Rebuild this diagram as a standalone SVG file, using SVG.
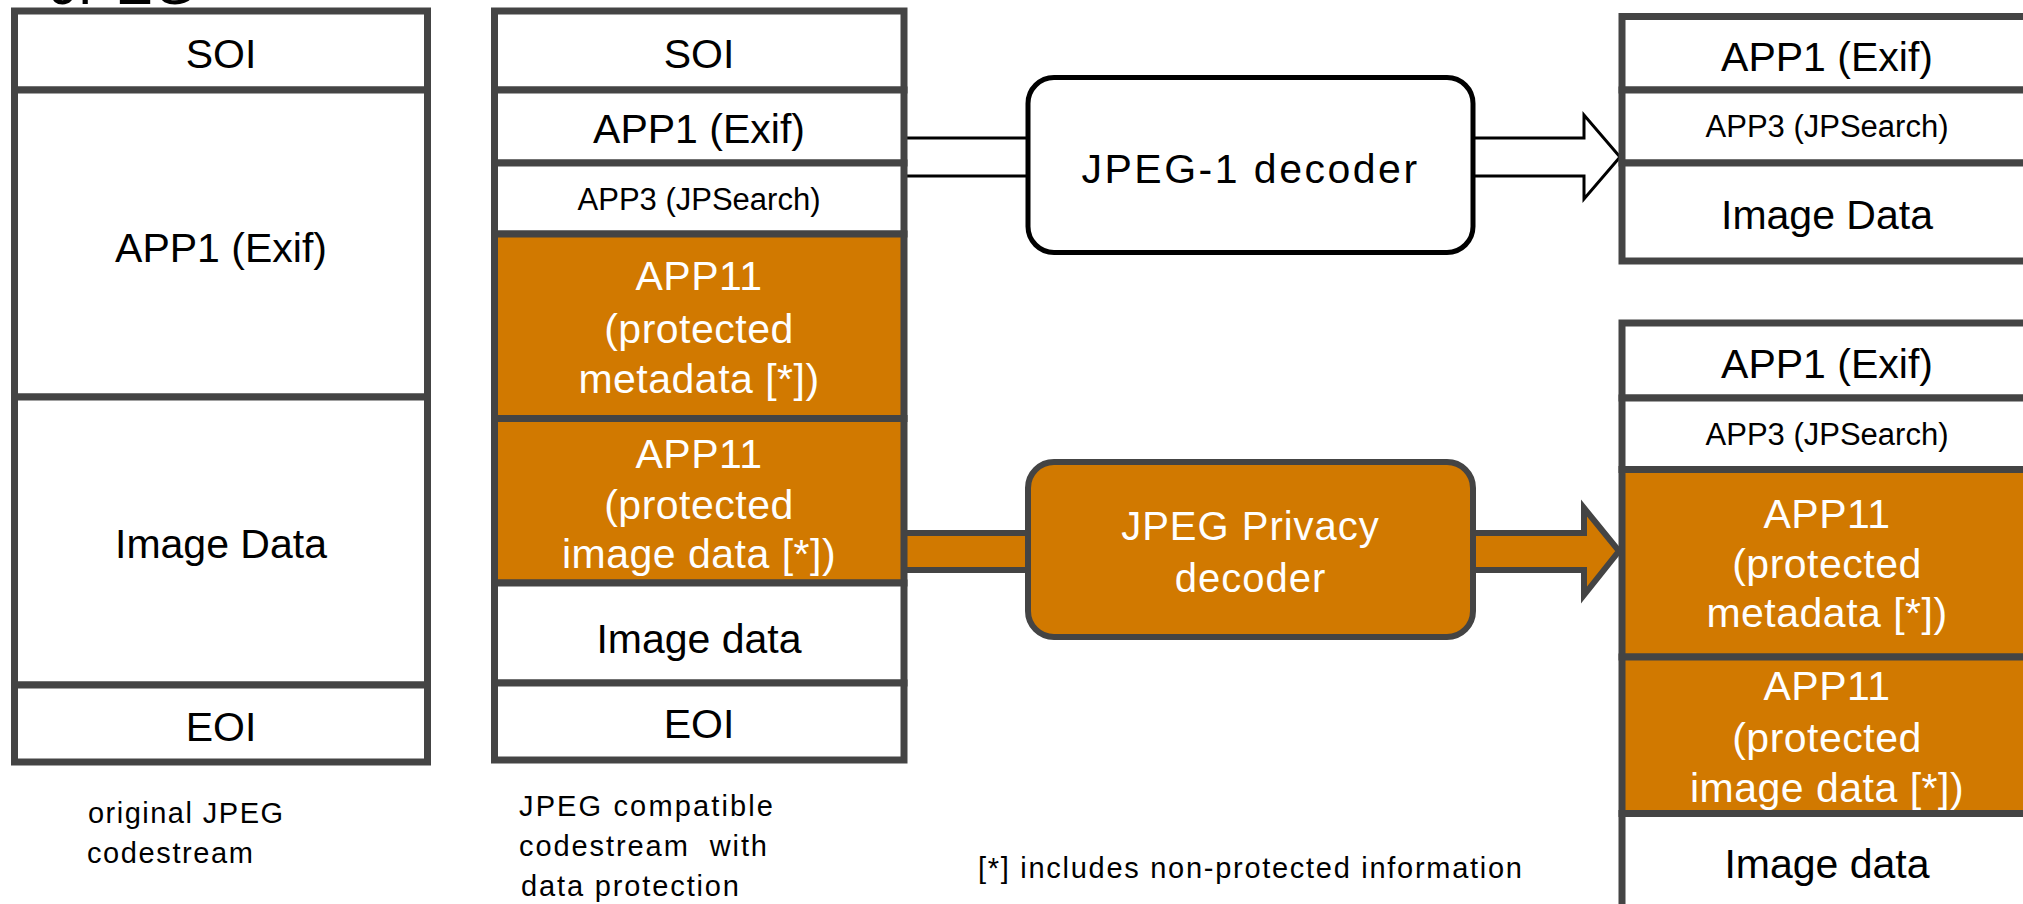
<svg xmlns="http://www.w3.org/2000/svg" width="2023" height="904" viewBox="0 0 2023 904">
<style>
text{font-family:"Liberation Sans",Arial,sans-serif;text-anchor:middle;fill:#000}
.cell{fill:#fff;stroke:#444;stroke-width:7}
.org{fill:#D17900;stroke:#444;stroke-width:7}
.t{font-size:41px}
.s{font-size:31px}
.w{fill:#fff;font-size:41px;letter-spacing:0.5px}
.cap{font-size:29px;text-anchor:start}
</style>
<rect width="2023" height="904" fill="#fff"/>
<text x="50" y="4" style="font-size:56px;text-anchor:start">JPEG</text>

<g id="connectors">
  <path d="M907,138 H1028 M907,176 H1028" stroke="#000" stroke-width="3" fill="none"/>
  <polygon points="1473,138 1584,138 1584,115 1620,157 1584,199 1584,176 1473,176" fill="#fff" stroke="#000" stroke-width="3"/>
  <rect x="905" y="533" width="125" height="37" fill="#D17900"/>
  <path d="M905,533 H1030 M905,570 H1030" stroke="#444" stroke-width="6" fill="none"/>
  <polygon points="1470,533 1584,533 1584,508 1619,551 1584,595 1584,570 1470,570" fill="#D17900" stroke="#444" stroke-width="6"/>
</g>

<g id="original">
  <rect class="cell" x="14.5" y="11" width="413" height="79"/>
  <rect class="cell" x="14.5" y="90" width="413" height="307"/>
  <rect class="cell" x="14.5" y="397" width="413" height="288"/>
  <rect class="cell" x="14.5" y="685" width="413" height="77"/>
  <text class="t" x="221" y="68">SOI</text>
  <text class="t" x="221" y="262">APP1 (Exif)</text>
  <text class="t" x="221" y="558">Image Data</text>
  <text class="t" x="221" y="741">EOI</text>
  <text class="cap" x="88" y="823" textLength="195" lengthAdjust="spacing">original JPEG</text>
  <text class="cap" x="87" y="863" textLength="166" lengthAdjust="spacing">codestream</text>
</g>

<g id="protected">
  <rect class="cell" x="494.5" y="11" width="409.5" height="79"/>
  <rect class="cell" x="494.5" y="90" width="409.5" height="73"/>
  <rect class="cell" x="494.5" y="163" width="409.5" height="71"/>
  <rect class="org" x="494.5" y="234" width="409.5" height="184.5"/>
  <rect class="org" x="494.5" y="418.5" width="409.5" height="164.5"/>
  <rect class="cell" x="494.5" y="583" width="409.5" height="100"/>
  <rect class="cell" x="494.5" y="683" width="409.5" height="77"/>
  <text class="t" x="699" y="68">SOI</text>
  <text class="t" x="699" y="143">APP1 (Exif)</text>
  <text class="s" x="699" y="210">APP3 (JPSearch)</text>
  <text class="w" x="699" y="290">APP11</text>
  <text class="w" x="699" y="343">(protected</text>
  <text class="w" x="699" y="393">metadata [*])</text>
  <text class="w" x="699" y="468">APP11</text>
  <text class="w" x="699" y="519">(protected</text>
  <text class="w" x="699" y="568">image data [*])</text>
  <text class="t" x="699" y="653">Image data</text>
  <text class="t" x="699" y="738">EOI</text>
  <text class="cap" x="519" y="816" textLength="254" lengthAdjust="spacing">JPEG compatible</text>
  <text class="cap" x="519" y="856" textLength="248" lengthAdjust="spacing" xml:space="preserve">codestream  with</text>
  <text class="cap" x="521" y="896" textLength="218" lengthAdjust="spacing">data protection</text>
</g>

<g id="jpeg1-decoder">
  <rect x="1028" y="77.5" width="445" height="175" rx="26" fill="#fff" stroke="#000" stroke-width="5"/>
  <text x="1250.5" y="183" style="font-size:41px;letter-spacing:2.5px">JPEG-1 decoder</text>
</g>

<g id="privacy-decoder">
  <rect x="1028" y="462" width="445" height="175" rx="26" fill="#D17900" stroke="#444" stroke-width="6"/>
  <text x="1250.5" y="540" style="font-size:40px;fill:#fff;letter-spacing:1px">JPEG Privacy</text>
  <text x="1250.5" y="592" style="font-size:40px;fill:#fff;letter-spacing:1px">decoder</text>
</g>

<g id="jpeg1-output">
  <rect class="cell" x="1622" y="16.5" width="410" height="73.5"/>
  <rect class="cell" x="1622" y="90" width="410" height="73"/>
  <rect class="cell" x="1622" y="163" width="410" height="98"/>
  <text class="t" x="1827" y="71">APP1 (Exif)</text>
  <text class="s" x="1827" y="137">APP3 (JPSearch)</text>
  <text class="t" x="1827" y="229">Image Data</text>
</g>

<g id="privacy-output">
  <rect class="cell" x="1622" y="323" width="410" height="75"/>
  <rect class="cell" x="1622" y="398" width="410" height="71.5"/>
  <rect class="org" x="1622" y="469.5" width="410" height="187.5"/>
  <rect class="org" x="1622" y="657" width="410" height="156.5"/>
  <rect class="cell" x="1622" y="813.5" width="410" height="130"/>
  <text class="t" x="1827" y="378">APP1 (Exif)</text>
  <text class="s" x="1827" y="445">APP3 (JPSearch)</text>
  <text class="w" x="1827" y="528">APP11</text>
  <text class="w" x="1827" y="578">(protected</text>
  <text class="w" x="1827" y="627">metadata [*])</text>
  <text class="w" x="1827" y="700">APP11</text>
  <text class="w" x="1827" y="752">(protected</text>
  <text class="w" x="1827" y="802">image data [*])</text>
  <text class="t" x="1827" y="878">Image data</text>
</g>

<g id="footnote">
  <text class="cap" x="978" y="878" textLength="544" lengthAdjust="spacing">[*] includes non-protected information</text>
</g>
</svg>
